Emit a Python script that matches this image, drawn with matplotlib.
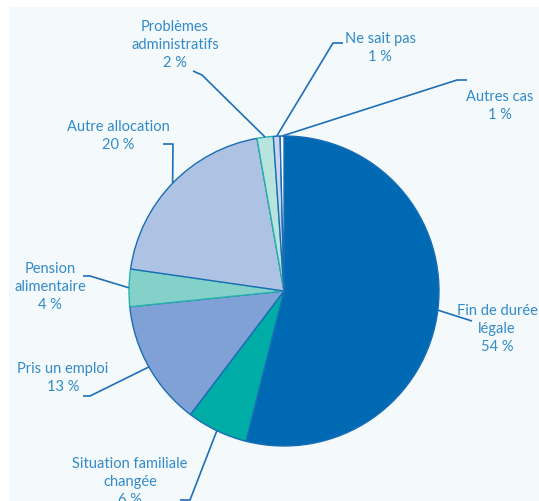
import numpy as np
import matplotlib.pyplot as plt
from matplotlib.patches import Rectangle

# data (percent shares; labels show rounded values)
labels = ["Fin de durée\nlégale\n54 %", "Situation familiale\nchangée\n6 %",
          "Pris un emploi\n13 %", "Pension\nalimentaire\n4 %",
          "Autre allocation\n20 %", "Problèmes\nadministratifs\n2 %",
          "Ne sait pas\n1 %", "Autres cas\n1 %"]
values = [54.1, 6.4, 13.1, 3.9, 20.0, 1.7, 0.7, 0.4]
colors = ["#0069b4", "#00aca6", "#7fa1d6", "#83d1c9", "#aec2e3", "#b9e3dd", "#c9d5ef", "#ffffff"]
edges = ["#1a6db5", "#1a6db5", "#1a6db5", "#27b3ab", "#1a6db5", "#27b3ab", "#1a6db5", "#1a6db5"]

W, H = 539, 502
cx, cy, R = 284, 292, 155
txt_col = "#338ac8"
line_col = "#1e6fb6"

def px(x, y):
    # pixel (top-left origin) -> data coords (pie radius 1 at centre)
    return (x - cx) / R, (cy - y) / R

fig = plt.figure(figsize=(W / 100, H / 100), dpi=100)
ax = fig.add_axes([0, 0, 1, 1])
ax.axis("off")
ax.add_patch(Rectangle((9 / W, 0), 1, 1 - 8 / H, transform=ax.transAxes,
                       facecolor="#f4fafb", edgecolor="none", zorder=0))

wedges, _ = ax.pie(values, colors=colors, startangle=90, counterclock=False, radius=1,
                   wedgeprops=dict(linewidth=1.0, zorder=2))
for w, e in zip(wedges, edges):
    w.set_edgecolor(e)

ax.set_xlim(-cx / R, (W - cx) / R)
ax.set_ylim((cy - H) / R, cy / R)
ax.set_aspect("equal")

# label layout: text centre (px), elbow path (px) from text side toward pie
layout = [
    ((497, 329), [(472, 322)]),
    ((130, 482), [(180, 501), (190, 501)]),
    ((63, 378), [(83, 397), (90, 397)]),
    ((50, 287), [(83, 277), (90, 277)]),
    ((118, 136), [(163, 145), (173, 145)]),
    ((175, 45), [(193, 72), (202, 76)]),
    ((380, 48), [(343, 44), (333, 44)]),
    ((500, 106), [(467, 81), (457, 81)]),
]

for w, lab, (tpos, path) in zip(wedges, labels, layout):
    ang = np.deg2rad((w.theta1 + w.theta2) / 2)
    pts = [px(*p) for p in path] + [(np.cos(ang), np.sin(ang))]
    xs, ys = zip(*pts)
    ax.plot(xs, ys, color=line_col, lw=1.2, solid_capstyle="butt", zorder=3)
    tx, ty = px(*tpos)
    ax.text(tx, ty, lab, ha="center", va="center", fontsize=10.5, family="Lato",
            color=txt_col, linespacing=1.4, zorder=4)

fig.savefig("out.png", dpi=100)
